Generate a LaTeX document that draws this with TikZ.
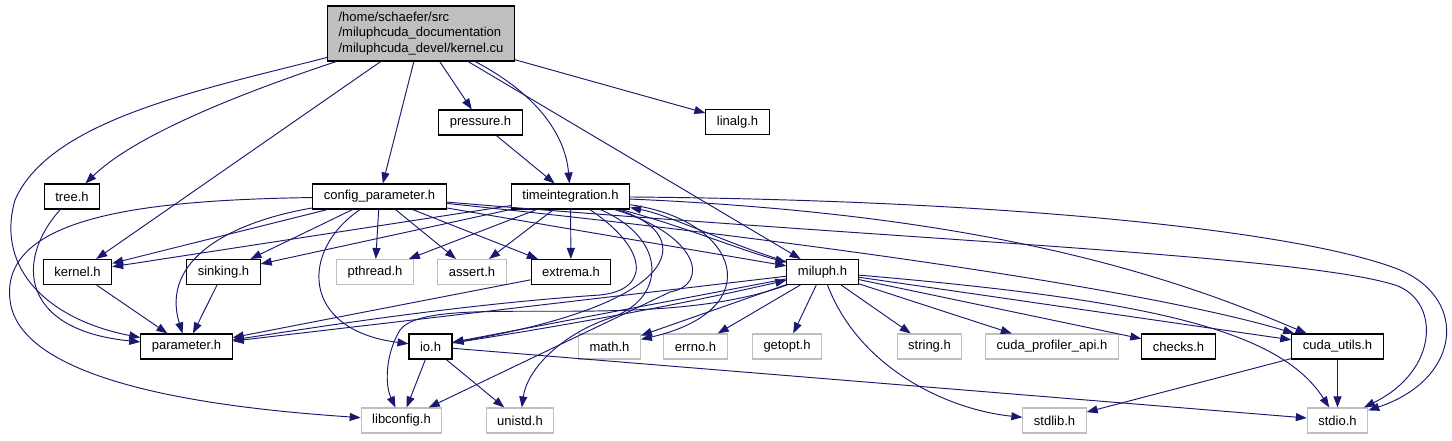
\documentclass[tikz,border=0pt]{standalone}
\usepackage{fontspec}
\setmainfont{Liberation Sans}
\usetikzlibrary{arrows.meta}
\definecolor{edgeblue}{HTML}{191970}
\definecolor{sysgray}{HTML}{BFBFBF}

\begin{document}
\begin{tikzpicture}[x=1pt, y=-1pt,
	hdrbox/.style={draw=black, line width=1.1pt, fill=white, inner xsep=11pt, minimum height=25pt, font=\fontsize{13}{15.5}\selectfont},
	sysbox/.style={hdrbox, draw=sysgray},
	rootbox/.style={hdrbox, fill=sysgray, align=left, minimum height=55pt},
	incl/.style={draw=edgeblue, line width=0.95pt, -{Triangle[length=11pt,width=8pt]}}]
	
	\useasboundingbox (0,0) rectangle (1452,440);
	
	% Root file
	\node[rootbox] (kernelcu) at (421,33.5) {/home/schaefer/src\\/miluphcuda\_documentation\\/miluphcuda\_devel/kernel.cu};
	
	% Project headers
	\node[hdrbox] (pressure) at (480.5,122.5) {pressure.h};
	\node[hdrbox] (linalg) at (737.5,122) {linalg.h};
	\node[hdrbox] (tree) at (72,196.5) {tree.h};
	\node[hdrbox] (config) at (379.5,196.5) {config\_parameter.h};
	\node[hdrbox] (timeint) at (570.5,196.5) {timeintegration.h};
	\node[hdrbox] (kernelh) at (77.5,272) {kernel.h};
	\node[hdrbox] (sinking) at (223.5,272) {sinking.h};
	\node[hdrbox] (extrema) at (571,272) {extrema.h};
	\node[hdrbox] (miluph) at (822.5,272) {miluph.h};
	\node[hdrbox] (param) at (186.5,346.5) {parameter.h};
	\node[hdrbox] (io) at (430.5,346.5) {io.h};
	\node[hdrbox] (checks) at (1178.5,346.5) {checks.h};
	\node[hdrbox] (cudautils) at (1337.5,346.5) {cuda\_utils.h};
	
	% System headers
	\node[sysbox] (pthread) at (375,272) {pthread.h};
	\node[sysbox] (assert) at (472,272) {assert.h};
	\node[sysbox] (math) at (609.5,346.5) {math.h};
	\node[sysbox] (errno) at (695.5,346.5) {errno.h};
	\node[sysbox] (getopt) at (787,346.5) {getopt.h};
	\node[sysbox] (string) at (929.5,346.5) {string.h};
	\node[sysbox] (cudaprof) at (1052,346.5) {cuda\_profiler\_api.h};
	\node[sysbox] (libconfig) at (401.5,420.5) {libconfig.h};
	\node[sysbox] (unistd) at (520,420.5) {unistd.h};
	\node[sysbox] (stdlib) at (1054.5,420.5) {stdlib.h};
	\node[sysbox] (stdio) at (1337.5,420.5) {stdio.h};
	
	% kernel.cu includes
	\draw[incl] (kernelcu) .. controls (200,90) and (50,120) .. (15,200) .. controls (-5,270) and (50,320) .. (param);
	\draw[incl] (kernelcu) .. controls (220,100) and (130,140) .. (tree);
	\draw[incl] (kernelcu) -- (kernelh);
	\draw[incl] (kernelcu) -- (config);
	\draw[incl] (kernelcu) -- (pressure);
	\draw[incl] (kernelcu) .. controls (530,90) and (565,130) .. (timeint);
	\draw[incl] (kernelcu) -- (miluph);
	\draw[incl] (kernelcu) -- (linalg);
	
	% Small headers
	\draw[incl] (pressure) -- (timeint);
	\draw[incl] (tree) .. controls (15,260) and (20,330) .. (param);
	\draw[incl] (kernelh) -- (param);
	\draw[incl] (sinking) -- (param);
	\draw[incl] (extrema) -- (param);
	
	% config_parameter.h includes
	\draw[incl] (config) .. controls (150,200) and (0,215) .. (10,300) .. controls (20,390) and (250,410) .. (libconfig);
	\draw[incl] (config) -- (kernelh);
	\draw[incl] (config) .. controls (230,222) and (160,260) .. (param);
	\draw[incl] (config) -- (sinking);
	\draw[incl] (config) .. controls (300,250) and (300,330) .. (io);
	\draw[incl] (config) -- (pthread);
	\draw[incl] (config) -- (assert);
	\draw[incl] (config) -- (extrema);
	\draw[incl] (config) -- (miluph);
	\draw[incl] (config) .. controls (800,240) and (1150,290) .. (cudautils);
	\draw[incl] (config) .. controls (900,240) and (1300,255) .. (1395,285) .. controls (1440,300) and (1440,370) .. (stdio);
	
	% timeintegration.h includes
	\draw[incl] (timeint) -- (kernelh);
	\draw[incl] (timeint) -- (sinking);
	\draw[incl] (timeint) -- (pthread);
	\draw[incl] (timeint) -- (assert);
	\draw[incl] (timeint) -- (extrema);
	\draw[incl] (timeint) .. controls (680,225) and (740,250) .. (miluph);
	\draw[incl] (timeint) .. controls (650,250) and (650,290) .. (600,295) .. controls (450,305) and (300,330) .. (param);
	\draw[incl] (timeint) .. controls (690,230) and (700,300) .. (io);
	\draw[incl] (timeint) .. controls (700,235) and (710,285) .. (670,292) -- (libconfig);
	\draw[incl] (timeint) .. controls (670,240) and (665,300) .. (610,318) .. controls (560,335) and (527,370) .. (unistd);
	\draw[incl] (timeint) .. controls (740,220) and (770,310) .. (math);
	\draw[incl] (timeint) .. controls (1000,215) and (1180,280) .. (cudautils);
	\draw[incl] (timeint) .. controls (1000,200) and (1300,230) .. (1400,270) .. controls (1470,300) and (1460,380) .. (stdio);
	
	% miluph.h includes
	\draw[incl] (miluph) .. controls (730,245) and (670,215) .. (timeint);
	\draw[incl] (miluph) -- (param);
	\draw[incl] (miluph) -- (io);
	\draw[incl] (miluph) .. controls (650,335) and (430,290) .. (400,330) .. controls (385,355) and (385,385) .. (libconfig);
	\draw[incl] (miluph) -- (math);
	\draw[incl] (miluph) -- (errno);
	\draw[incl] (miluph) -- (getopt);
	\draw[incl] (miluph) -- (string);
	\draw[incl] (miluph) -- (cudaprof);
	\draw[incl] (miluph) -- (checks);
	\draw[incl] (miluph) -- (cudautils);
	\draw[incl] (miluph) .. controls (860,370) and (950,410) .. (stdlib);
	\draw[incl] (miluph) .. controls (1150,300) and (1280,330) .. (stdio);
	
	% io.h and cuda_utils.h includes
	\draw[incl] (io) .. controls (600,320) and (700,300) .. (miluph);
	\draw[incl] (io) -- (libconfig);
	\draw[incl] (io) -- (unistd);
	\draw[incl] (io) -- (stdio);
	\draw[incl] (cudautils) -- (stdlib);
	\draw[incl] (cudautils) -- (stdio);
	
\end{tikzpicture}
\end{document}
